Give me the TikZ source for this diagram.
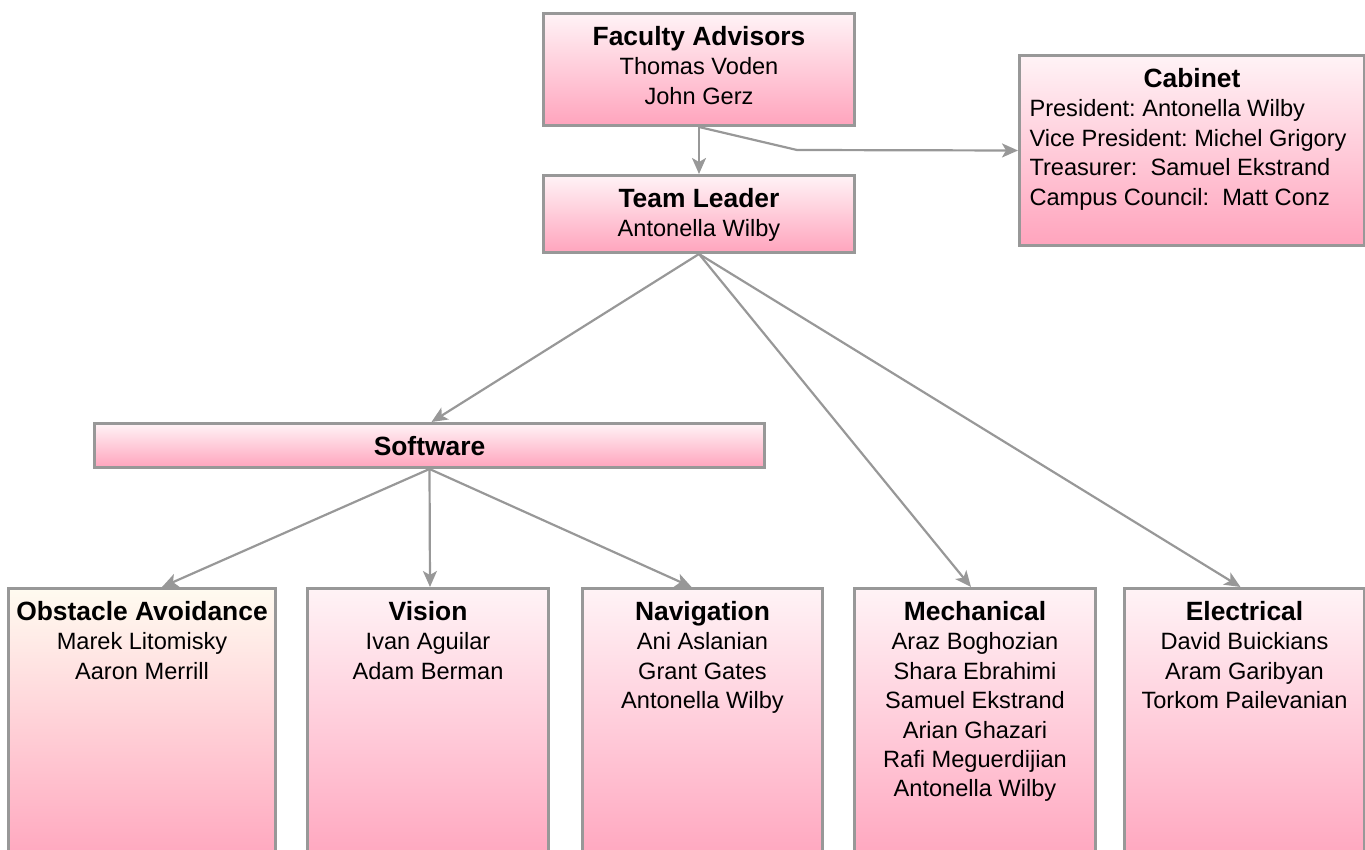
\documentclass[tikz,border=0pt]{standalone}
\usepackage{fontspec}
\setmainfont{Liberation Sans}
\usetikzlibrary{arrows.meta}

\definecolor{edgegray}{RGB}{152,152,152}
\definecolor{pinktop}{RGB}{255,243,246}
\definecolor{pinkbot}{RGB}{255,164,189}
\definecolor{creamtop}{RGB}{255,251,240}

% box text: width, height, title, members
\newcommand{\titlefont}{\fontsize{13.2}{14.7}\selectfont\bfseries}
\newcommand{\card}[4]{\parbox[c][#2][t]{#1}{\centering\rule{0pt}{16pt}{\titlefont #3}\\#4}}

\begin{document}
\frenchspacing
\begin{tikzpicture}[x=0.5pt, y=-0.5pt,
  unit/.style={draw=edgegray, line width=1.5pt, top color=pinktop, bottom color=pinkbot,
    inner sep=0pt, anchor=north west, font=\fontsize{11.8}{14.7}\selectfont\frenchspacing},
  link/.style={draw=edgegray, line width=1.1pt, -{Stealth[length=8pt, width=7pt, inset=2pt]}}]
  \useasboundingbox (0,0) rectangle (1365,850);
  \clip (0,0) rectangle (1365,850);

  % Boxes
  \node[unit] (fac) at (542,12) {\card{155.5pt}{56pt}{Faculty Advisors}{Thomas Voden\\John Gerz}};
  \node[unit] (lead) at (542,174) {\card{155.5pt}{38.5pt}{Team Leader}{Antonella Wilby}};
  \node[unit] (cab) at (1018,54) {\parbox[c][95pt][t]{172.5pt}{%
      {\centering\rule{0pt}{16pt}{\titlefont Cabinet}\par}\raggedright\leftskip=5pt
      President: Antonella Wilby\\
      Vice President: Michel Grigory\\
      Treasurer:\ \ Samuel Ekstrand\\
      Campus Council:\ \ Matt Conz}};
  \node[unit] (soft) at (93,422) {\card{335pt}{22pt}{Software}{}};
  \node[unit, top color=creamtop] (obst) at (7,587) {\card{133.5pt}{140pt}{Obstacle Avoidance}{Marek Litomisky\\Aaron Merrill}};
  \node[unit] (vis) at (306,587) {\card{120.5pt}{140pt}{Vision}{Ivan Aguilar\\Adam Berman}};
  \node[unit] (nav) at (581,587) {\card{120pt}{140pt}{Navigation}{Ani Aslanian\\Grant Gates\\Antonella Wilby}};
  \node[unit] (mech) at (853,587) {\card{120.5pt}{140pt}{Mechanical}{Araz Boghozian\\Shara Ebrahimi\\Samuel Ekstrand\\Arian Ghazari\\Rafi Meguerdijian\\Antonella Wilby}};
  \node[unit] (elec) at (1123,587) {\card{120pt}{140pt}{Electrical}{David Buickians\\Aram Garibyan\\Torkom Pailevanian}};

  % Coordinates
  \coordinate (cabbend) at (797,150);

  % Drawing
  \draw[link] (fac.south) -- (lead.north);
  \draw[link] (fac.south) -- (cabbend) -- (cab.west);
  \draw[link] (lead.south) -- ([xshift=1pt]soft.north);
  \draw[link] (lead.south) -- ([xshift=-2pt]mech.north);
  \draw[link] (lead.south) -- ([xshift=-2pt]elec.north);
  \draw[link] (soft.south) -- ([xshift=10pt]obst.north);
  \draw[link] (soft.south) -- ([xshift=1pt]vis.north);
  \draw[link] (soft.south) -- ([xshift=-5.5pt]nav.north);
\end{tikzpicture}
\end{document}
